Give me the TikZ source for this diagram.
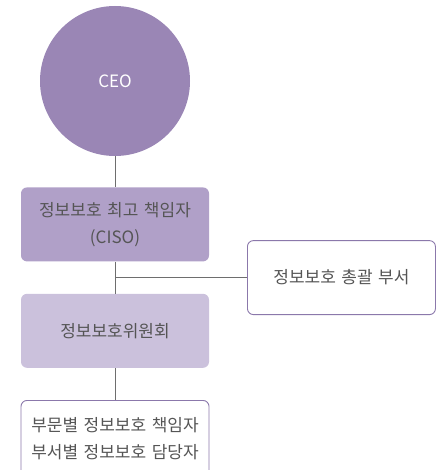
\documentclass[tikz,border=0pt]{standalone}
\usepackage{fontspec}
\setmainfont[WordSpace=1.45]{Noto Sans CJK KR}
\usetikzlibrary{positioning}
\definecolor{ceofill}{HTML}{9A86B5}
\definecolor{cisofill}{HTML}{B0A0C8}
\definecolor{commfill}{HTML}{CBC1DC}
\definecolor{edge}{HTML}{8B78AB}
\definecolor{txt}{HTML}{555555}
\definecolor{wire}{HTML}{6E6E6E}

\begin{document}
\begin{tikzpicture}[
  x=1pt, y=-1pt,
  font=\fontsize{17}{27}\selectfont, text=txt,
  box/.style={rounded corners=6pt, align=center, inner sep=0pt, minimum width=188pt, minimum height=74pt},
  conn/.style={draw=wire, line width=0.9pt},
  node distance=31pt and 38pt
]
\clip (0,0) rectangle (436,470);
\node[circle, fill=ceofill, minimum size=150pt, inner sep=0pt, text=white] (ceo) at (115,81) {CEO};
\node[box, fill=cisofill, below=of ceo] (ciso) {정보보호 최고 책임자\\(CISO)};
\node[box, fill=commfill, below=32pt of ciso] (comm) {정보보호위원회};
\node[box, draw=edge, line width=0.9pt, fill=white, below=32pt of comm, minimum height=76pt] (unit) {부문별 정보보호 책임자\\부서별 정보보호 담당자};
\coordinate[below=16pt of ciso] (br);
\node[box, draw=edge, line width=0.9pt, fill=white, right=132pt of br] (dept) {정보보호 총괄 부서};
\draw[conn] (ceo) -- (ciso);
\draw[conn] (ciso) -- (comm);
\draw[conn] (comm) -- (unit);
\draw[conn] (br) -- (dept);
\end{tikzpicture}
\end{document}
